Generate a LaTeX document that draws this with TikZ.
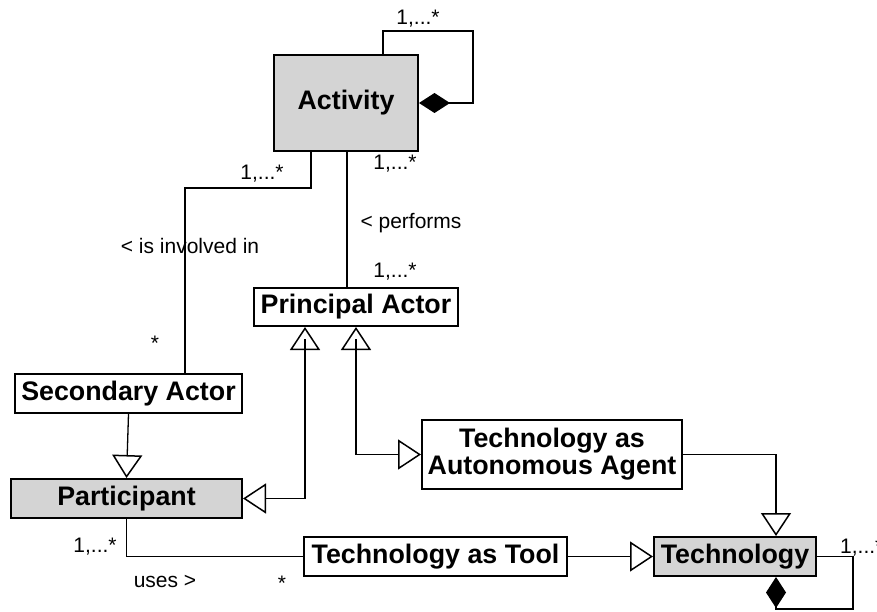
\documentclass[tikz,border=0pt]{standalone}
\usepackage{fontspec}
\setmainfont{Liberation Sans}
\usetikzlibrary{arrows.meta}
\definecolor{boxgray}{RGB}{212,212,212}
\tikzset{
  cls/.style={draw=black, line width=2pt, fill=white, inner sep=0pt,
    font=\fontsize{26.8}{30}\selectfont\bfseries, align=center},
  greycls/.style={cls, fill=boxgray},
  assoc/.style={line width=1.3pt},
  opentri/.tip={Triangle[open, length=23pt, width=30pt, line width=1.5pt]},
  gen/.style={assoc, -opentri},
  gengen/.style={assoc, opentri-opentri},
  comp/.style={assoc, {Diamond[length=31pt, width=20pt]}-},
  lbl/.style={font=\fontsize{21}{24}\selectfont, inner sep=0pt, anchor=base},
}
\begin{document}
\begin{tikzpicture}[x=1pt,y=-1pt]
\useasboundingbox (0,0) rectangle (877,612);

% classes
\node[greycls, minimum width=144pt, minimum height=96pt] (act) at (346,103) {Activity};
\node[cls, minimum width=204pt, minimum height=38pt] (pa) at (356,307) {Principal Actor};
\node[cls, minimum width=227pt, minimum height=39pt] (sa) at (128.5,393.5) {Secondary Actor};
\node[greycls, minimum width=231pt, minimum height=39pt] (par) at (126.5,498.5) {Participant};
\node[cls, minimum width=260pt, minimum height=69pt] (taa) at (552,454.5) {Technology as\\[-3pt]Autonomous Agent};
\node[cls, minimum width=263pt, minimum height=39pt] (tool) at (435.5,556.5) {Technology as Tool};
\node[greycls, minimum width=162pt, minimum height=39pt] (tech) at (735,556.5) {Technology};

% composition loops
\draw[comp] (act.east) -- ++(54,0) -- ++(0,-72) -| ([xshift=37pt]act.north);
\draw[comp] ([xshift=41pt]tech.south) -- ++(0,32) -| ([xshift=36pt]tech.east) -- (tech.east);

% associations
\draw[assoc] ([xshift=-35pt]act.south) -- ++(0,36) -| ([xshift=56.5pt]sa.north);
\draw[assoc] ([xshift=1pt]act.south) -- ([xshift=1pt]act.south |- pa.north);
\draw[assoc] (par.south) |- (tool.west);

% generalisations
\draw[gen] (sa.south) -- (par.north);
\draw[gengen] (par.east) -| ([xshift=-51pt]pa.south);
\draw[gengen] (taa.west) -| (pa.south);
\draw[gen] (taa.east) -| ([xshift=41pt]tech.north);
\draw[gen] (tool.east) -- (tech.west);
\draw[assoc] ([xshift=-51pt,yshift=-23pt]pa.south) -- ++(0,-11);
\draw[assoc] ([yshift=-23pt]pa.south) -- ++(0,-11);

% multiplicities and role names
\node[lbl] (m1) at (418,25) {1,...*};
\node[lbl] (m2) at (395,170) {1,...*};
\node[lbl] (m3) at (262,180) {1,...*};
\node[lbl] (r1) at (190,254) {< is involved in};
\node[lbl] (r2) at (411,229) {< performs};
\node[lbl] (m4) at (395,277) {1,...*};
\node[lbl] (m5) at (155,350) {*};
\node[lbl] (m6) at (95,552) {1,...*};
\node[lbl] (r3) at (165,587) {uses >};
\node[lbl] (m7) at (282,590) {*};
\node[lbl, anchor=base west] (m8) at (840,553) {1,...*};
\end{tikzpicture}
\end{document}
